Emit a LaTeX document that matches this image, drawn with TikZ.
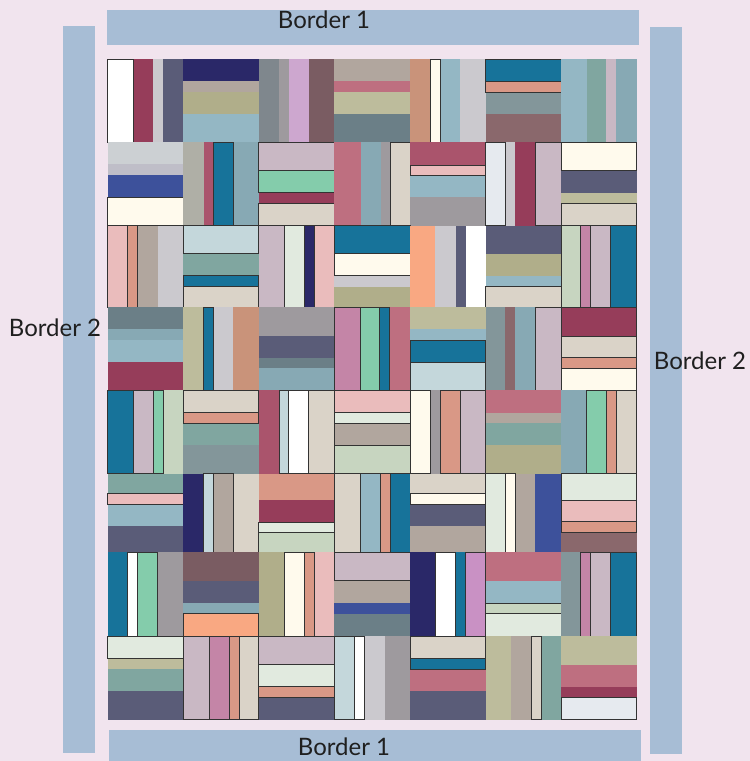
\documentclass[tikz,border=0pt]{standalone}
\usepackage{fontspec}
\setmainfont{Lato}

\definecolor{bg}{HTML}{F1E4EE}
\definecolor{borderblue}{HTML}{A7BDD5}
\definecolor{edge}{HTML}{333333}
\definecolor{snow}{HTML}{FFFFFF}
\definecolor{plum}{HTML}{963D5A}
\definecolor{silver}{HTML}{CBC9CE}
\definecolor{slate}{HTML}{5A5C78}
\definecolor{navy}{HTML}{2A2868}
\definecolor{khaki}{HTML}{B0AE8A}
\definecolor{sky}{HTML}{94B7C4}
\definecolor{pewter}{HTML}{7F878D}
\definecolor{ash}{HTML}{9E9A9E}
\definecolor{lilac}{HTML}{CDA7CF}
\definecolor{cocoa}{HTML}{7A5C62}
\definecolor{taupe}{HTML}{B1A69E}
\definecolor{rose}{HTML}{BE6F80}
\definecolor{sage}{HTML}{BDBC9C}
\definecolor{steel}{HTML}{6B7F87}
\definecolor{clay}{HTML}{C9937A}
\definecolor{cream}{HTML}{FFFAED}
\definecolor{ocean}{HTML}{17739A}
\definecolor{salmon}{HTML}{D99886}
\definecolor{fog}{HTML}{83969A}
\definecolor{mauve}{HTML}{8A686C}
\definecolor{dusk}{HTML}{87A9B4}
\definecolor{seafoam}{HTML}{80A6A0}
\definecolor{thistle}{HTML}{C9B8C4}
\definecolor{mist}{HTML}{CCD0D3}
\definecolor{haze}{HTML}{BFBEC8}
\definecolor{royal}{HTML}{3D519B}
\definecolor{berry}{HTML}{AA546C}
\definecolor{mint}{HTML}{84CCAB}
\definecolor{linen}{HTML}{DAD3C8}
\definecolor{blush}{HTML}{EABCBC}
\definecolor{ice}{HTML}{E6EAEF}
\definecolor{moss}{HTML}{AFAFA6}
\definecolor{celadon}{HTML}{C7D5C0}
\definecolor{pale}{HTML}{E1EADF}
\definecolor{frost}{HTML}{C4D7DB}
\definecolor{peach}{HTML}{F9A882}
\definecolor{orchid}{HTML}{C485A7}
\definecolor{heather}{HTML}{C991C4}

\tikzset{
  e0/.style={},
  e1/.style={draw=edge,line width=0.8pt},
  bordertext/.style={text=black!88,font=\fontsize{24}{28}\selectfont,inner sep=0pt},
}

\def\rowtops{59,142.3,225.5,307,390.3,473.7,552.3,636,719.7}

% block with vertical strips: col, row, cuts, colour/edge list
\newcommand{\vblock}[4]{%
  \pgfmathsetmacro\bx{107.6+75.6*#1}%
  \pgfmathsetmacro\by{{\rowtops}[#2]}%
  \pgfmathsetmacro\bz{{\rowtops}[#2+1]}%
  \foreach \col/\ed [count=\i from 0] in {#4} {
    \pgfmathsetmacro\fa{{0,#3,1}[\i]}
    \pgfmathsetmacro\fb{{0,#3,1}[\i+1]}
    \path[fill=\col] (\bx+75.6*\fa,\by) rectangle (\bx+75.6*\fb,\bz);
  }
  \foreach \col/\ed [count=\i from 0] in {#4} {
    \pgfmathsetmacro\fa{{0,#3,1}[\i]}
    \pgfmathsetmacro\fb{{0,#3,1}[\i+1]}
    \path[e\ed] (\bx+75.6*\fa,\by) rectangle (\bx+75.6*\fb,\bz);
  }
}
% block with horizontal strips
\newcommand{\hblock}[4]{%
  \pgfmathsetmacro\bx{107.6+75.6*#1}%
  \pgfmathsetmacro\by{{\rowtops}[#2]}%
  \pgfmathsetmacro\bh{{\rowtops}[#2+1]-\by}%
  \foreach \col/\ed [count=\i from 0] in {#4} {
    \pgfmathsetmacro\fa{{0,#3,1}[\i]}
    \pgfmathsetmacro\fb{{0,#3,1}[\i+1]}
    \path[fill=\col] (\bx,\by+\bh*\fa) rectangle (\bx+75.6,\by+\bh*\fb);
  }
  \foreach \col/\ed [count=\i from 0] in {#4} {
    \pgfmathsetmacro\fa{{0,#3,1}[\i]}
    \pgfmathsetmacro\fb{{0,#3,1}[\i+1]}
    \path[e\ed] (\bx,\by+\bh*\fa) rectangle (\bx+75.6,\by+\bh*\fb);
  }
}

\begin{document}
\begin{tikzpicture}[x=1pt,y=-1pt,line join=miter]
  \useasboundingbox (0,0) rectangle (750,761);
  \fill[bg] (0,0) rectangle (750,761);
  % borders
  \fill[borderblue] (107,10) rectangle (639,44.5);
  \fill[borderblue] (109,730) rectangle (641,761);
  \fill[borderblue] (63,26) rectangle (95,753);
  \fill[borderblue] (650,27) rectangle (682,754);

  % row 1
  \vblock{0}{0}{0.345,0.60,0.733}{snow/1,plum/0,silver/0,slate/0}
  \hblock{1}{0}{0.264,0.396,0.664}{navy/0,taupe/0,khaki/0,sky/0}
  \vblock{2}{0}{0.265,0.397,0.658}{pewter/0,ash/0,lilac/0,cocoa/0}
  \hblock{3}{0}{0.264,0.396,0.664}{taupe/0,rose/0,sage/0,steel/0}
  \vblock{4}{0}{0.265,0.402,0.658}{clay/0,cream/1,sky/0,silver/0}
  \hblock{5}{0}{0.264,0.396,0.66}{ocean/1,salmon/1,fog/0,mauve/0}
  \vblock{6}{0}{0.342,0.594,0.721}{sky/0,seafoam/0,thistle/0,dusk/0}
  % row 2
  \hblock{0}{1}{0.264,0.396,0.664}{mist/0,haze/0,royal/0,cream/1}
  \vblock{1}{1}{0.275,0.40,0.67}{moss/0,berry/0,ocean/1,dusk/0}
  \hblock{2}{1}{0.339,0.60,0.737}{thistle/1,mint/1,plum/0,linen/1}
  \vblock{3}{1}{0.347,0.611,0.736}{rose/0,dusk/0,ash/0,linen/1}
  \hblock{4}{1}{0.275,0.40,0.66}{berry/0,blush/1,sky/0,ash/0}
  \vblock{5}{1}{0.266,0.394,0.66}{ice/1,silver/0,plum/0,thistle/1}
  \hblock{6}{1}{0.339,0.61,0.737}{cream/1,slate/0,sage/0,linen/1}
  % row 3
  \vblock{0}{2}{0.267,0.396,0.668}{blush/1,salmon/1,taupe/0,silver/0}
  \hblock{1}{2}{0.347,0.612,0.751}{frost/1,seafoam/0,ocean/1,linen/1}
  \vblock{2}{2}{0.338,0.598,0.74}{thistle/0,pale/1,navy/0,blush/1}
  \hblock{3}{2}{0.347,0.612,0.751}{ocean/1,cream/1,silver/0,khaki/0}
  \vblock{4}{2}{0.333,0.603,0.735}{peach/0,silver/0,slate/0,snow/0}
  \hblock{5}{2}{0.347,0.62,0.751}{slate/0,khaki/0,sky/0,linen/1}
  \vblock{6}{2}{0.26,0.388,0.648}{celadon/1,orchid/1,thistle/1,ocean/1}
  % row 4
  \hblock{0}{3}{0.268,0.40,0.664}{steel/0,dusk/0,sky/0,plum/0}
  \vblock{1}{3}{0.27,0.404,0.66}{sage/0,ocean/1,silver/0,clay/0}
  \hblock{2}{3}{0.352,0.616,0.736}{ash/0,slate/0,steel/0,dusk/0}
  \vblock{3}{3}{0.338,0.60,0.73}{orchid/1,mint/1,ocean/1,rose/0}
  \hblock{4}{3}{0.268,0.40,0.664}{sage/0,sky/0,ocean/1,frost/1}
  \vblock{5}{3}{0.26,0.394,0.66}{fog/0,mauve/0,dusk/0,thistle/1}
  \hblock{6}{3}{0.348,0.608,0.74}{plum/1,linen/1,salmon/1,cream/1}
  % row 5
  \vblock{0}{4}{0.345,0.604,0.737}{ocean/1,thistle/1,mint/1,celadon/0}
  \hblock{1}{4}{0.264,0.396,0.656}{linen/1,salmon/1,seafoam/0,fog/0}
  \vblock{2}{4}{0.269,0.397,0.658}{berry/0,frost/1,snow/1,linen/1}
  \hblock{3}{4}{0.264,0.396,0.66}{blush/1,pale/1,taupe/1,celadon/1}
  \vblock{4}{4}{0.265,0.397,0.662}{cream/1,ash/0,salmon/1,thistle/1}
  \hblock{5}{4}{0.272,0.392,0.656}{rose/0,taupe/0,seafoam/0,khaki/0}
  \vblock{6}{4}{0.333,0.603,0.731}{dusk/0,mint/1,salmon/1,linen/1}
  % row 6
  \hblock{0}{5}{0.254,0.39,0.665}{seafoam/0,blush/1,sky/0,slate/0}
  \vblock{1}{5}{0.27,0.404,0.67}{navy/0,frost/1,taupe/1,linen/0}
  \hblock{2}{5}{0.33,0.614,0.75}{salmon/0,plum/0,pale/1,celadon/1}
  \vblock{3}{5}{0.343,0.606,0.736}{linen/1,sky/0,salmon/1,ocean/0}
  \hblock{4}{5}{0.25,0.39,0.665}{linen/0,cream/1,slate/0,taupe/0}
  \vblock{5}{5}{0.266,0.394,0.656}{pale/1,cream/1,taupe/0,royal/0}
  \hblock{6}{5}{0.335,0.61,0.75}{pale/1,blush/1,salmon/1,mauve/0}
  % row 7
  \vblock{0}{6}{0.267,0.396,0.664}{ocean/0,snow/1,mint/1,ash/0}
  \hblock{1}{6}{0.343,0.605,0.733}{cocoa/0,slate/0,dusk/0,peach/1}
  \vblock{2}{6}{0.338,0.603,0.731}{khaki/0,cream/1,salmon/1,blush/0}
  \hblock{3}{6}{0.339,0.606,0.737}{thistle/1,taupe/0,royal/0,steel/0}
  \vblock{4}{6}{0.342,0.603,0.735}{navy/0,snow/1,ocean/0,heather/1}
  \hblock{5}{6}{0.343,0.606,0.733}{rose/0,sky/0,celadon/1,pale/1}
  \vblock{6}{6}{0.26,0.388,0.648}{fog/0,orchid/1,thistle/1,ocean/1}
  % row 8
  \hblock{0}{7}{0.267,0.394,0.657}{pale/1,sage/0,seafoam/0,slate/0}
  \vblock{1}{7}{0.349,0.61,0.739}{thistle/1,orchid/1,salmon/1,linen/1}
  \hblock{2}{7}{0.339,0.602,0.737}{thistle/1,pale/1,salmon/1,slate/0}
  \vblock{3}{7}{0.264,0.394,0.667}{frost/1,snow/1,silver/0,ash/0}
  \hblock{4}{7}{0.263,0.398,0.657}{linen/1,ocean/1,rose/0,slate/0}
  \vblock{5}{7}{0.34,0.601,0.734}{sage/0,taupe/0,linen/1,seafoam/0}
  \hblock{6}{7}{0.347,0.61,0.737}{sage/0,rose/0,plum/0,ice/1}

  % labels
  \node[bordertext] (topname) at (324,20) {Border 1};
  \node[bordertext] (bottomname) at (344,747) {Border 1};
  \node[bordertext] (leftname) at (55,328) {Border 2};
  \node[bordertext] (rightname) at (700,361) {Border 2};
\end{tikzpicture}
\end{document}
